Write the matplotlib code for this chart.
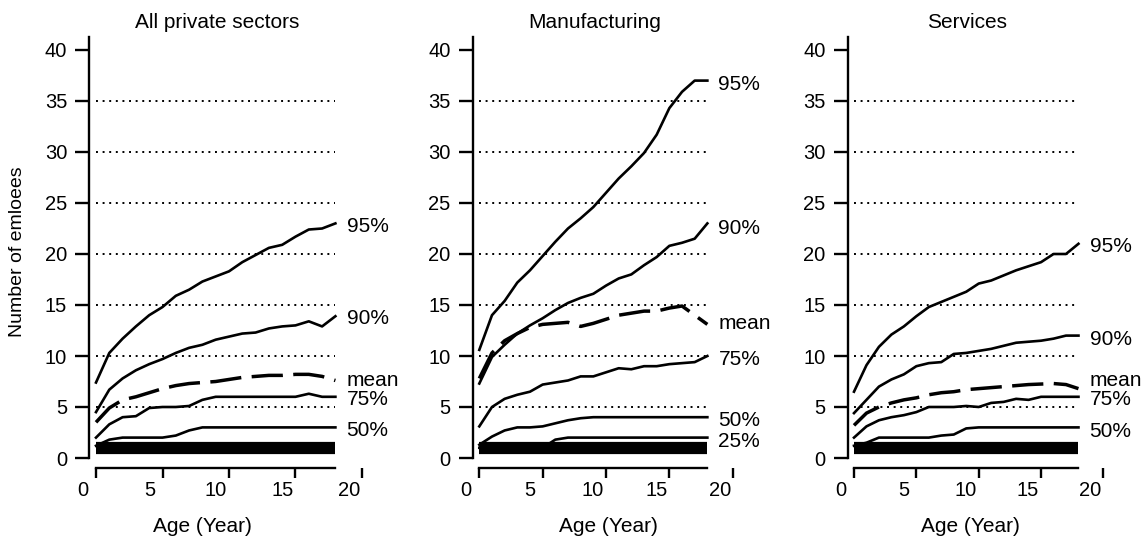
"""Firm size percentiles by age for all private sectors, manufacturing and services."""

import numpy as np
import matplotlib
matplotlib.use("Agg")
import matplotlib.pyplot as plt
from matplotlib.transforms import ScaledTranslation

plt.rcParams['font.family'] = ['Liberation Sans', 'DejaVu Sans']


# =============================================================================
# Data
# =============================================================================

age = np.arange(19)

# All private sectors
all_p95 = [7.4, 10.3, 11.7, 12.9, 14.0, 14.8, 15.9, 16.5, 17.3, 17.8, 18.3, 19.2, 19.9, 20.6, 20.9, 21.7, 22.4, 22.5, 23.0]
all_p90 = [4.5, 6.7, 7.8, 8.6, 9.2, 9.7, 10.3, 10.8, 11.1, 11.6, 11.9, 12.2, 12.3, 12.7, 12.9, 13.0, 13.4, 12.9, 13.9]
all_mean = [3.5, 4.9, 5.7, 6.0, 6.4, 6.8, 7.1, 7.3, 7.4, 7.5, 7.7, 7.9, 8.0, 8.1, 8.1, 8.2, 8.2, 8.0, 7.6]
all_p75 = [2.0, 3.3, 4.0, 4.1, 4.9, 5.0, 5.0, 5.1, 5.7, 6.0, 6.0, 6.0, 6.0, 6.0, 6.0, 6.0, 6.3, 6.0, 6.0]
all_p50 = [1.2, 1.8, 2.0, 2.0, 2.0, 2.0, 2.2, 2.7, 3.0, 3.0, 3.0, 3.0, 3.0, 3.0, 3.0, 3.0, 3.0, 3.0, 3.0]
all_low = [1, 1, 1, 1, 1, 1, 1, 1, 1, 1, 1, 1, 1, 1, 1, 1, 1, 1, 1]

# Manufacturing
man_p95 = [10.6, 14.0, 15.4, 17.2, 18.4, 19.8, 21.2, 22.5, 23.5, 24.6, 26.0, 27.4, 28.6, 29.9, 31.7, 34.3, 35.9, 37.0, 37.0]
man_p90 = [7.3, 9.9, 11.1, 12.2, 13.0, 13.7, 14.5, 15.2, 15.7, 16.1, 16.9, 17.6, 18.0, 18.9, 19.7, 20.8, 21.1, 21.5, 23.0]
man_mean = [7.8, 10.3, 11.5, 12.2, 12.8, 13.1, 13.2, 13.3, 12.9, 13.2, 13.6, 14.0, 14.2, 14.4, 14.4, 14.7, 14.9, 14.0, 13.1]
man_p75 = [3.1, 5.0, 5.8, 6.2, 6.5, 7.2, 7.4, 7.6, 8.0, 8.0, 8.4, 8.8, 8.7, 9.0, 9.0, 9.2, 9.3, 9.4, 10.0]
man_p50 = [1.3, 2.1, 2.7, 3.0, 3.0, 3.1, 3.4, 3.7, 3.9, 4.0, 4.0, 4.0, 4.0, 4.0, 4.0, 4.0, 4.0, 4.0, 4.0]
man_p25 = [1, 1, 1, 1, 1, 1, 1.8, 2, 2, 2, 2, 2, 2, 2, 2, 2, 2, 2, 2]
man_low = [1, 1, 1, 1, 1, 1, 1, 1, 1, 1, 1, 1, 1, 1, 1, 1, 1, 1, 1]

# Services
srv_p95 = [6.5, 9.1, 10.9, 12.1, 12.9, 13.9, 14.8, 15.3, 15.8, 16.3, 17.1, 17.4, 17.9, 18.4, 18.8, 19.2, 20.0, 20.0, 21.0]
srv_p90 = [4.4, 5.7, 7.0, 7.7, 8.2, 9.0, 9.3, 9.4, 10.2, 10.3, 10.5, 10.7, 11.0, 11.3, 11.4, 11.5, 11.7, 12.0, 12.0]
srv_mean = [3.2, 4.4, 5.0, 5.4, 5.7, 5.9, 6.2, 6.4, 6.5, 6.7, 6.8, 6.9, 7.0, 7.1, 7.2, 7.25, 7.3, 7.2, 6.8]
srv_p75 = [2.0, 3.1, 3.7, 4.0, 4.2, 4.5, 5.0, 5.0, 5.0, 5.1, 5.0, 5.4, 5.5, 5.8, 5.7, 6.0, 6.0, 6.0, 6.0]
srv_p50 = [1.2, 1.5, 2.0, 2.0, 2.0, 2.0, 2.0, 2.2, 2.3, 2.9, 3.0, 3.0, 3.0, 3.0, 3.0, 3.0, 3.0, 3.0, 3.0]
srv_low = [1, 1, 1, 1, 1, 1, 1, 1, 1, 1, 1, 1, 1, 1, 1, 1, 1, 1, 1]

titles = ['All private sectors', 'Manufacturing', 'Services']
x_ticks = [0, 5, 10, 15, 20]
y_ticks = [0, 5, 10, 15, 20, 25, 30, 35, 40]
grid_levels = [5, 10, 15, 20, 25, 30, 35]


# =============================================================================
# Layout (pixels on a 1147 x 536 canvas)
# =============================================================================

W, H = 1147, 536
XLIM = (-0.5, 20.5)
YLIM = (-1, 42)
Y0_PX, Y_SCALE = 458.0, 10.2          # pixel row of y=0, pixels per employee


def axes_rect(x0_px, x_scale):
    """Figure-fraction rect for a panel whose x=0 sits at x0_px."""
    left = x0_px + XLIM[0] * x_scale
    width = (XLIM[1] - XLIM[0]) * x_scale
    top = Y0_PX - YLIM[1] * Y_SCALE
    height = (YLIM[1] - YLIM[0]) * Y_SCALE
    return [left / W, (H - top - height) / H, width / W, height / H]


def draw_panel(fig, ax, title, lines, mean, low, labels, xlabel_px):
    """Percentile lines, dashed mean and the thick floor band for one sector."""
    ax.hlines(grid_levels, 0, 18, colors='black', linewidth=1.4,
              linestyles=[(0, (1, 2.4))], zorder=1)

    ax.plot(age, low, color='black', linewidth=8.8, solid_capstyle='butt', zorder=2)
    for series in lines:
        ax.plot(age, series, color='black', linewidth=1.9, zorder=3)
    ax.plot(age, mean, color='black', linewidth=2.5, dashes=(9, 3), zorder=3)

    for text, yv in labels:
        ax.annotate(text, xy=(18, yv), xytext=(8, 0), textcoords='offset points',
                    ha='left', va='center', fontsize=15, annotation_clip=False)

    ax.set_xlim(*XLIM)
    ax.set_ylim(*YLIM)
    for side in ('top', 'right'):
        ax.spines[side].set_visible(False)
    ax.spines['left'].set_bounds(0, 41.3)
    ax.spines['bottom'].set_bounds(0, 18)
    for side in ('left', 'bottom'):
        ax.spines[side].set_linewidth(1.7)

    ax.set_xticks(x_ticks)
    ax.set_yticks(y_ticks)
    ax.tick_params(axis='y', direction='out', length=10, width=1.7, labelsize=14.5, pad=6)
    ax.tick_params(axis='x', direction='out', length=7, width=1.7, labelsize=14.5, pad=2)
    shift = ScaledTranslation(-0.13, 0, fig.dpi_scale_trans)
    for lab in ax.get_xticklabels():
        lab.set_transform(lab.get_transform() + shift)

    ax.text(9.1, 42.7, title, ha='center', va='center', fontsize=15, clip_on=False)
    fig.text(xlabel_px / W, 1 - 527 / H, 'Age (Year)', ha='center', va='center', fontsize=15)


# =============================================================================
# Figure
# =============================================================================

fig = plt.figure(figsize=(W / 100, H / 100), dpi=100)

ax1 = fig.add_axes(axes_rect(96.0, 13.3))
ax2 = fig.add_axes(axes_rect(479.3, 12.67))
ax3 = fig.add_axes(axes_rect(854.0, 12.47))

draw_panel(fig, ax1, titles[0], [all_p95, all_p90, all_p75, all_p50], all_mean, all_low,
           [('95%', 22.7), ('90%', 13.7), ('mean', 7.6), ('75%', 5.7), ('50%', 2.7)], 202)
draw_panel(fig, ax2, titles[1], [man_p95, man_p90, man_p75, man_p50, man_p25], man_mean, man_low,
           [('95%', 36.6), ('90%', 22.5), ('mean', 13.2), ('75%', 9.7), ('50%', 3.7), ('25%', 1.6)], 608)
draw_panel(fig, ax3, titles[2], [srv_p95, srv_p90, srv_p75, srv_p50], srv_mean, srv_low,
           [('95%', 20.7), ('90%', 11.6), ('mean', 7.6), ('75%', 5.7), ('50%', 2.6)], 970)

fig.text(18 / W, 1 - 252 / H, 'Number of emloees', rotation=90, ha='center', va='center', fontsize=14)

fig.savefig('out.png', dpi=100)
